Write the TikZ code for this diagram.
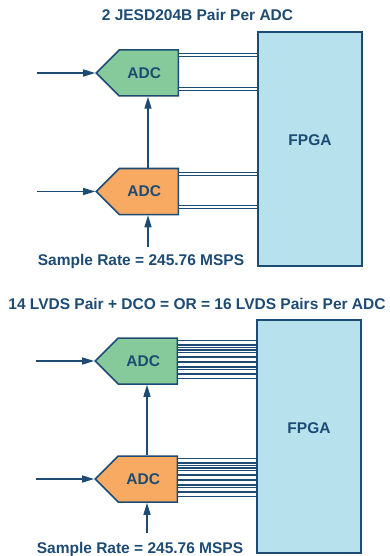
\documentclass[tikz,border=0pt]{standalone}
\usepackage{fontspec}
\setmainfont{Liberation Sans}
\usetikzlibrary{shapes.symbols,arrows.meta}

\definecolor{adiblue}{HTML}{1D4B74}
\definecolor{adcgreen}{HTML}{86C99B}
\definecolor{adcorange}{HTML}{F8AA62}
\definecolor{fpgablue}{HTML}{B8E1EE}

\tikzset{
  labelfont/.style={font=\bfseries\fontsize{15.5}{17}\selectfont, text=adiblue},
  adc/.style={signal, signal to=west, signal pointer angle=90, draw=adiblue,
    line width=1.5pt, minimum width=82, minimum height=46, inner sep=0pt,
    anchor=east, label={[labelfont, xshift=-4.5]center:ADC}},
  fpga/.style={draw=adiblue, fill=fpgablue, line width=1.5pt,
    minimum width=104, minimum height=234, inner sep=0pt},
  sig/.style={draw=adiblue, line width=1.4pt, -{Triangle[length=12pt,width=7pt]}},
  pair/.style={draw=adiblue, line width=1.2pt, double=white, double distance=1.8pt},
  lvds/.style={draw=adiblue, line width=0.7pt, double=white, double distance=0.7pt}
}

\begin{document}
\begin{tikzpicture}[x=1pt, y=-1pt]
  \useasboundingbox (0,0) rectangle (389,556);

  % JESD204B: two serial pairs from each ADC
  \node[labelfont, anchor=base] (titleA) at (197.5,21) {2 JESD204B Pair Per ADC};
  \node[fpga, label={[labelfont, yshift=9]center:FPGA}] (fpgaA) at (310,149) {};
  \node[adc, fill=adcgreen] (adcA) at (179,73) {};
  \node[adc, fill=adcorange] (adcB) at (179,191.5) {};
  \node[labelfont, anchor=base] (rateA) at (141,265) {Sample Rate = 245.76 MSPS};

  \coordinate (inA) at (37,73);
  \coordinate (inB) at (37,191.5);
  \coordinate (clkA) at (148,247);
  \draw[sig] (inA) -- (adcA.west);
  \draw[sig] (inB) -- (adcB.west);
  \draw[sig] (clkA |- adcB.north) -- (clkA |- adcA.south);
  \draw[sig] (clkA) -- (clkA |- adcB.south);

  \foreach \adc in {adcA, adcB} {
    \draw[pair] ([yshift=-6]\adc.north east) -- ([yshift=-6]\adc.north east -| fpgaA.west);
    \draw[pair] ([yshift=6.5]\adc.south east) -- ([yshift=6.5]\adc.south east -| fpgaA.west);
  }

  % parallel LVDS: sixteen pairs from each ADC
  \node[labelfont, anchor=base] (titleB) at (197,309) {14 LVDS Pair + DCO = OR = 16 LVDS Pairs Per ADC};
  \node[fpga, minimum height=233, label={[labelfont, yshift=8.5]center:FPGA}] (fpgaB) at (309,436.5) {};
  \node[adc, fill=adcgreen] (adcC) at (178,361) {};
  \node[adc, fill=adcorange] (adcD) at (178,479) {};
  \node[labelfont, anchor=base] (rateB) at (140,553) {Sample Rate = 245.76 MSPS};

  \coordinate (inC) at (36,361);
  \coordinate (inD) at (36,479);
  \coordinate (clkB) at (147,533);
  \draw[sig] (inC) -- (adcC.west);
  \draw[sig] (inD) -- (adcD.west);
  \draw[sig] (clkB |- adcD.north) -- (clkB |- adcC.south);
  \draw[sig] (clkB) -- (clkB |- adcD.south);

  \foreach \adc in {adcC, adcD} {
    \foreach \i in {0,...,15} {
      \draw[lvds] ([yshift=-4-\i*2.43]\adc.north east) -- ([yshift=-4-\i*2.43]\adc.north east -| fpgaB.west);
    }
  }
\end{tikzpicture}
\end{document}
